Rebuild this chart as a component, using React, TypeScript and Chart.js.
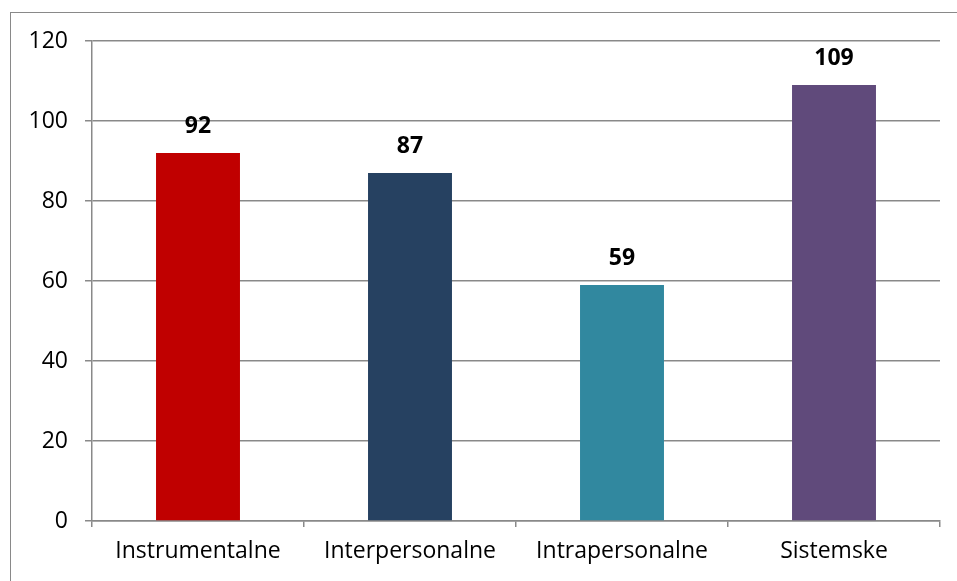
import React, { useEffect, useRef } from "react";
import { Chart, registerables } from "chart.js";

Chart.register(...registerables);

const categories = ["Instrumentalne", "Interpersonalne", "Intrapersonalne", "Sistemske"];
const values = [92, 87, 59, 109];
const barColors = ["#C00000", "#264161", "#31889F", "#604A7B"];
const yTicks = [0, 20, 40, 60, 80, 100, 120];

const FONT = "'Open Sans', 'Noto Sans', sans-serif";
const GRID = "#898989";

// Bold value printed above each bar
const valueLabels = {
  id: "valueLabels",
  afterDatasetsDraw(chart: any) {
    const ctx = chart.ctx;
    const meta = chart.getDatasetMeta(0);
    ctx.save();
    ctx.font = `bold 23px ${FONT}`;
    ctx.fillStyle = "#000";
    ctx.textAlign = "center";
    ctx.textBaseline = "middle";
    meta.data.forEach((bar: any, i: number) => {
      ctx.fillText(String(values[i]), bar.x, bar.y - 27);
    });
    ctx.restore();
  },
};

export default function App() {
  const ref = useRef<HTMLCanvasElement | null>(null);

  useEffect(() => {
    document.body.style.margin = "0";
    const chart = new Chart(ref.current!, {
      type: "bar",
      data: {
        labels: categories,
        datasets: [
          {
            data: values,
            backgroundColor: barColors,
            borderWidth: 0,
            barPercentage: 0.8,
            categoryPercentage: 0.495,
          },
        ],
      },
      options: {
        animation: false,
        responsive: false,
        maintainAspectRatio: false,
        layout: { padding: { left: 0, right: 17, top: 41, bottom: 0 } },
        plugins: { legend: { display: false }, tooltip: { enabled: false } },
        scales: {
          x: {
            grid: {
              offset: true,
              drawOnChartArea: false,
              drawTicks: true,
              tickLength: 6,
              color: GRID,
              lineWidth: 1.5,
            },
            border: { color: GRID, width: 1.5 },
            ticks: {
              color: "#000",
              font: { family: FONT, size: 23 },
              padding: 11,
              maxRotation: 0,
            },
            afterFit(scale: any) {
              scale.height = 60;
            },
          },
          y: {
            min: 0,
            max: 120,
            afterBuildTicks(scale: any) {
              scale.ticks = yTicks.map((v) => ({ value: v }));
            },
            grid: { color: GRID, lineWidth: 1.5, tickLength: 7 },
            border: { color: GRID, width: 1.5 },
            ticks: {
              color: "#000",
              font: { family: FONT, size: 23 },
              padding: 17,
            },
            afterFit(scale: any) {
              scale.width = 92;
            },
          },
        },
      },
      plugins: [valueLabels],
    });
    return () => chart.destroy();
  }, []);

  return (
    <div style={{ position: "fixed", left: 0, top: 0, width: 957, height: 581, overflow: "hidden", background: "#fff" }}>
      <div
        style={{
          position: "absolute",
          left: 10,
          top: 12,
          width: 1000,
          height: 1000,
          border: "1.5px solid #898989",
        }}
      />
      <canvas ref={ref} width={957} height={581} style={{ position: "absolute", left: 0, top: 0 }} />
    </div>
  );
}
